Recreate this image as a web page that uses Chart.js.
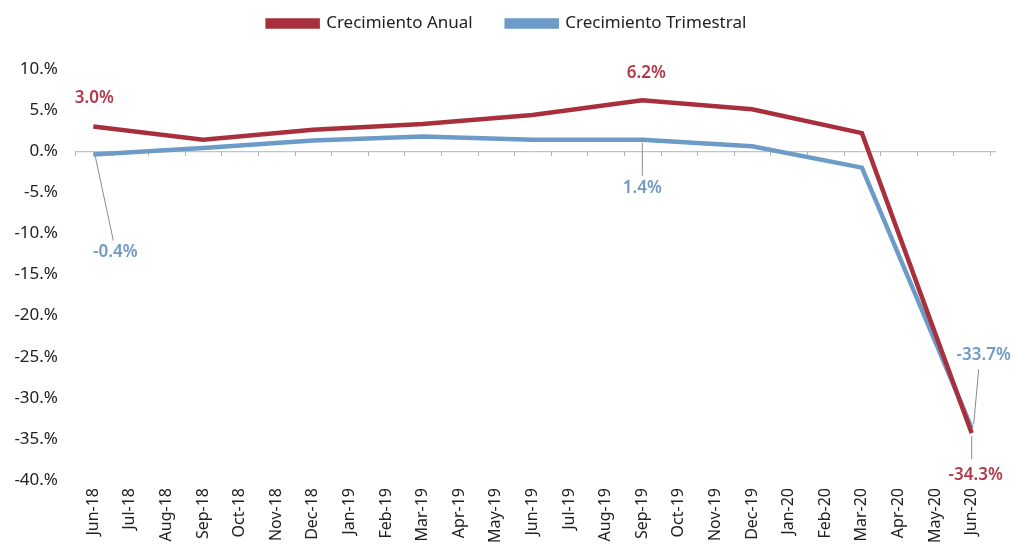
<!DOCTYPE html>
<html>
<head>
<meta charset="utf-8">
<script src="https://cdn.jsdelivr.net/npm/chart.js@4/dist/chart.umd.min.js"></script>
<style>
  html, body { margin: 0; padding: 0; background: #fff; }
  #wrap { width: 1015px; height: 552px; }
</style>
</head>
<body>
<div id="wrap"><canvas id="myChart"></canvas></div>
<script>
const months = ["Jun-18", "Jul-18", "Aug-18", "Sep-18", "Oct-18", "Nov-18", "Dec-18",
  "Jan-19", "Feb-19", "Mar-19", "Apr-19", "May-19", "Jun-19", "Jul-19", "Aug-19",
  "Sep-19", "Oct-19", "Nov-19", "Dec-19", "Jan-20", "Feb-20", "Mar-20", "Apr-20",
  "May-20", "Jun-20"];

// quarterly readings, months in between left empty
const anual = [3.0, null, null, 1.4, null, null, 2.6, null, null, 3.3, null, null,
  4.4, null, null, 6.2, null, null, 5.1, null, null, 2.2, null, null, -34.3];
const trimestral = [-0.4, null, null, 0.4, null, null, 1.3, null, null, 1.8, null, null,
  1.4, null, null, 1.4, null, null, 0.6, null, null, -2.0, null, null, -33.7];

const yTicks = [10, 5, 0, -5, -10, -15, -20, -25, -30, -35, -40];

const RED = "#A8303D";
const BLUE = "#6B9BC6";
const FONT = "'Noto Sans', 'Open Sans', sans-serif";

// callouts: dataset, index, text offset and optional leader line
const callouts = [
  { ds: 0, i: 0, dx: 1, dy: -28 },
  { ds: 1, i: 0, dx: 22, dy: 98, leader: [2, 2, 20, 86] },
  { ds: 0, i: 15, dx: 4, dy: -27 },
  { ds: 1, i: 15, dx: 0, dy: 48, leader: [0, 3, 0, 36] },
  { ds: 1, i: 24, dx: 12, dy: -73, leader: [2, -4, 7, -59] },
  { ds: 0, i: 24, dx: 4, dy: 42, leader: [0, 3, 0, 26] },
];

const fmt = (v) => v.toFixed(1) + "%";

const calloutPlugin = {
  id: "callouts",
  afterDatasetsDraw(chart) {
    const ctx = chart.ctx;
    ctx.save();
    ctx.font = "600 17px " + FONT;
    ctx.textAlign = "center";
    ctx.textBaseline = "middle";
    callouts.forEach((c) => {
      const pt = chart.getDatasetMeta(c.ds).data[c.i];
      const val = chart.data.datasets[c.ds].data[c.i];
      if (c.leader) {
        ctx.strokeStyle = "#8a8a8a";
        ctx.lineWidth = 1;
        ctx.beginPath();
        ctx.moveTo(pt.x + c.leader[0], pt.y + c.leader[1]);
        ctx.lineTo(pt.x + c.leader[2], pt.y + c.leader[3]);
        ctx.stroke();
      }
      ctx.fillStyle = c.ds === 0 ? "#B23A4A" : "#6F9AC6";
      ctx.fillText(fmt(val), pt.x + c.dx, pt.y + c.dy);
    });
    ctx.restore();
  },
};

// zero axis line with small tick marks between categories
const zeroAxisPlugin = {
  id: "zeroAxis",
  beforeDatasetsDraw(chart) {
    const { ctx, chartArea, scales } = chart;
    const y0 = scales.y.getPixelForValue(0);
    const x = scales.x;
    const step = x.getPixelForTick(1) - x.getPixelForTick(0);
    ctx.save();
    ctx.strokeStyle = "#b5b5b5";
    ctx.lineWidth = 1;
    ctx.beginPath();
    ctx.moveTo(chartArea.left, y0 + 0.5);
    ctx.lineTo(chartArea.right + 6, y0 + 0.5);
    for (let i = 0; i <= months.length; i++) {
      const px = Math.round(x.getPixelForTick(0) - step / 2 + i * step) + 0.5;
      ctx.moveTo(px, y0);
      ctx.lineTo(px, y0 + 5);
    }
    ctx.stroke();
    ctx.restore();
  },
};

// fixed legend block height, items nudged up and right
const legendSpacer = {
  id: "legendSpacer",
  beforeInit(chart) {
    const fit = chart.legend.fit;
    chart.legend.fit = function () {
      fit.call(this);
      this.height = 69;
    };
  },
  afterLayout(chart) {
    chart.legend.top = -19;
    chart.legend.left = 24;
  },
};

const config = {
  type: "line",
  data: {
    labels: months,
    datasets: [
      {
        label: "Crecimiento Anual",
        data: anual,
        borderColor: RED,
        backgroundColor: RED,
        borderWidth: 4.5,
        pointRadius: 0,
        spanGaps: true,
        tension: 0,
      },
      {
        label: "Crecimiento Trimestral",
        data: trimestral,
        borderColor: BLUE,
        backgroundColor: BLUE,
        borderWidth: 4.5,
        pointRadius: 0,
        spanGaps: true,
        tension: 0,
      },
    ],
  },
  options: {
    responsive: true,
    maintainAspectRatio: false,
    animation: false,
    layout: { padding: { left: 0, right: 25, top: 0, bottom: 0 } },
    plugins: {
      legend: {
        position: "top",
        labels: {
          boxWidth: 50,
          boxHeight: 6,
          padding: 34,
          color: "#222",
          font: { family: FONT, size: 17 },
        },
      },
      tooltip: { enabled: false },
    },
    scales: {
      x: {
        offset: true,
        grid: { display: false, drawTicks: false },
        border: { display: false },
        afterFit(scale) {
          scale.height = 72;
        },
        ticks: {
          autoSkip: false,
          minRotation: 90,
          maxRotation: 90,
          padding: 8,
          color: "#222",
          font: { family: FONT, size: 16 },
        },
      },
      y: {
        min: -40,
        max: 10,
        afterBuildTicks(scale) {
          scale.ticks = yTicks.map((v) => ({ value: v }));
        },
        afterFit(scale) {
          scale.width = 75;
        },
        grid: { display: false, drawTicks: false },
        border: { display: false },
        ticks: {
          padding: 17,
          color: "#222",
          font: { family: FONT, size: 17 },
          callback: (v) => v + ".%",
        },
      },
    },
  },
  plugins: [zeroAxisPlugin, calloutPlugin, legendSpacer],
};

window.addEventListener("DOMContentLoaded", () => {
  new Chart(document.getElementById("myChart"), config);
});
</script>
</body>
</html>
